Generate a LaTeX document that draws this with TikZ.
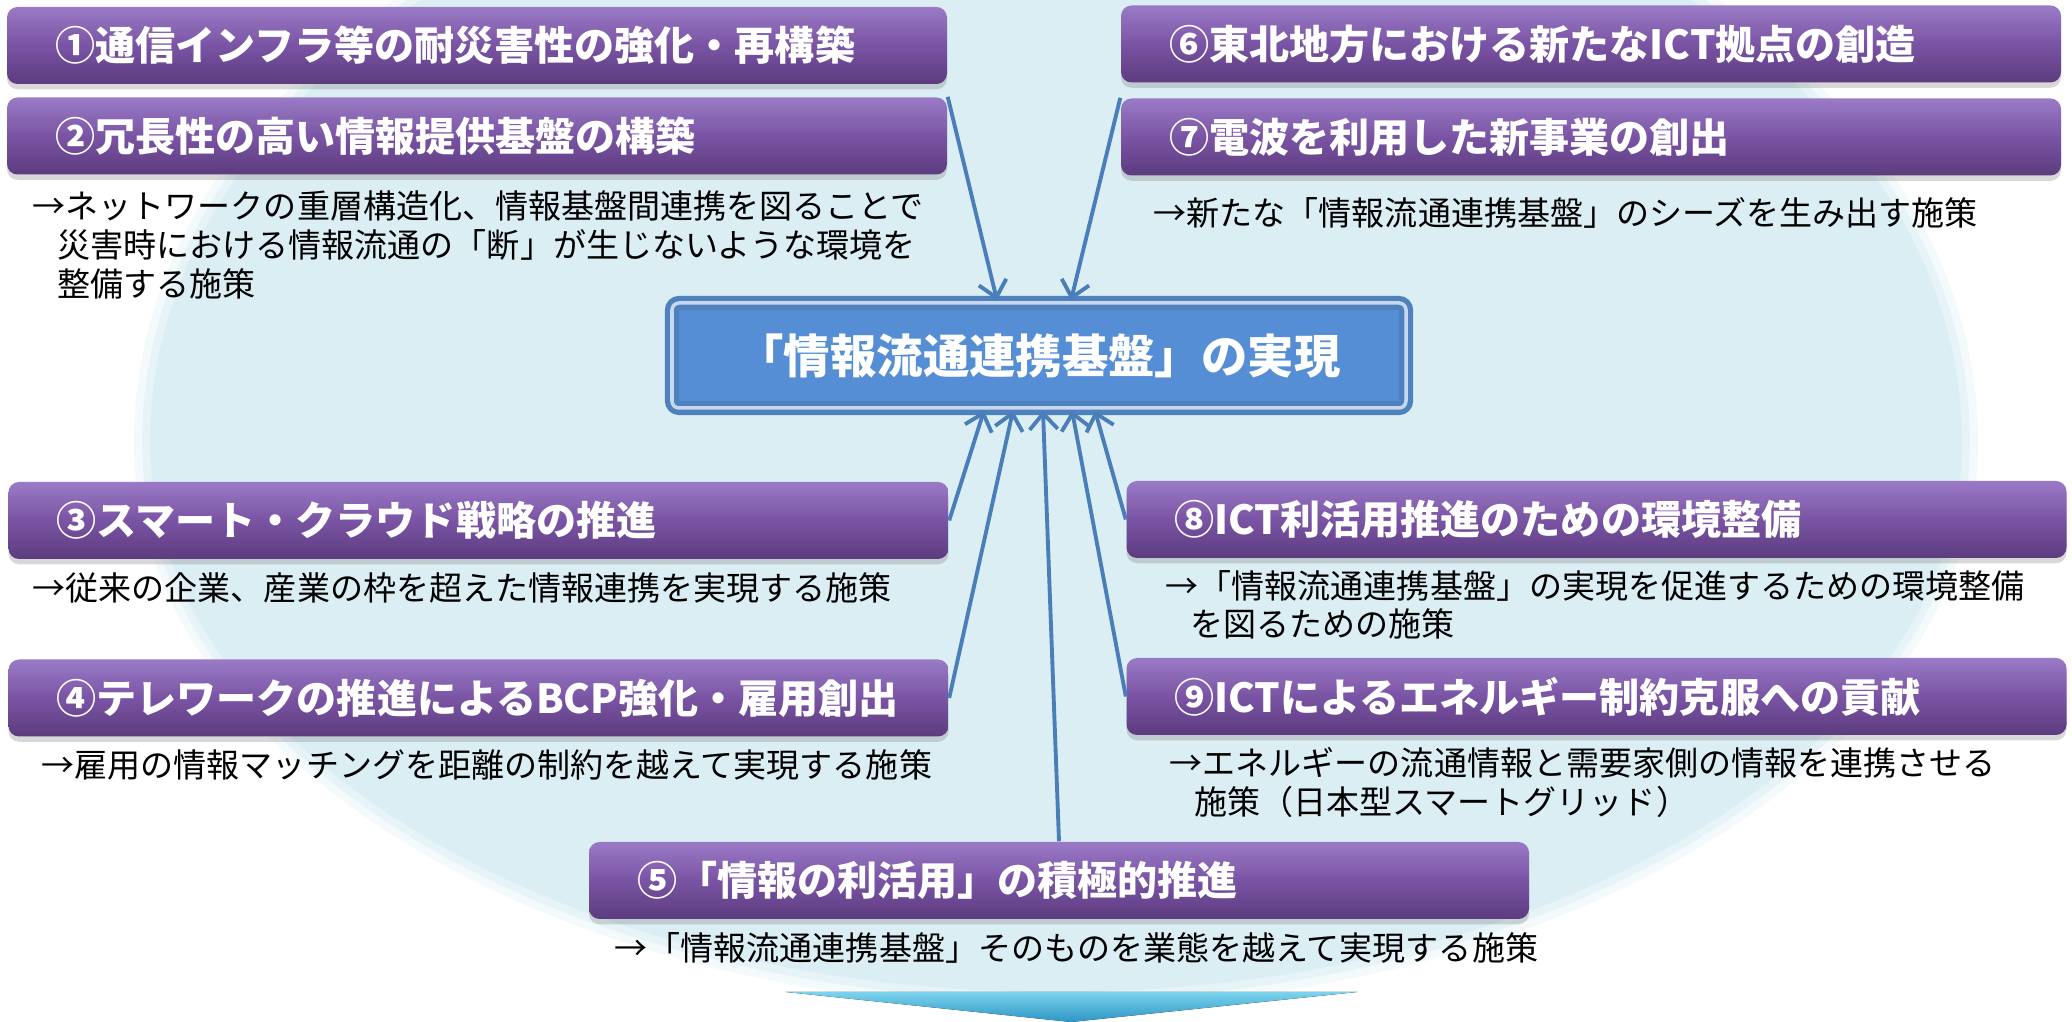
\documentclass[tikz,border=0pt]{standalone}
\usepackage{fontspec}
\setmainfont{Noto Sans CJK JP}
\usetikzlibrary{arrows.meta, shadows}

\definecolor{bgblue}{HTML}{DAEEF3}
\definecolor{ptop}{HTML}{9A7AC6}
\definecolor{pmid}{HTML}{7A54A4}
\definecolor{pbot}{HTML}{5C3B7E}
\definecolor{rfill}{HTML}{558ED5}
\definecolor{rline}{HTML}{4F81BD}
\definecolor{rstripe}{HTML}{C6D9F1}
\definecolor{linkblue}{HTML}{4A7EBB}
\definecolor{vtop}{HTML}{7CD3EE}
\definecolor{vbot}{HTML}{2C96C4}

\newcommand{\noteind}{\hspace*{0.75em}}
% egg shaped backdrop, #1 = extra radius
\newcommand{\backegg}[1]{(1.50-#1,5.8) arc[start angle=180, end angle=0, x radius=9.06+#1, y radius=6.2+#1]
  arc[start angle=0, end angle=-180, x radius=9.06+#1, y radius=5.5+#1] -- cycle}

\tikzset{
  measure/.style={rounded corners=3pt, top color=ptop, bottom color=pbot, middle color=pmid,
    drop shadow={shadow xshift=0pt, shadow yshift=-1.5pt, opacity=0.3},
    minimum width=9.4cm, minimum height=0.77cm, text width=8.44cm,
    inner xsep=0.48cm, inner ysep=0pt, align=left, text=white,
    font=\fontsize{11.4}{13}\selectfont\bfseries},
  goal/.style={draw=rline, line width=1.5pt, double=rstripe, double distance=1pt,
    fill=rfill, rounded corners=2pt, minimum width=7.34cm, minimum height=1.05cm,
    text=white, font=\fontsize{13.2}{15}\selectfont\bfseries},
  note/.style={anchor=west, align=left, inner sep=0pt, font=\fontsize{9.4}{11}\selectfont},
  feed/.style={draw=linkblue, line width=1.1pt, -{Straight Barb[length=4.5pt,width=8pt]}}
}

\begin{document}
\begin{tikzpicture}
\useasboundingbox (0,0) rectangle (20.72,10.22);
\clip (0,0) rectangle (20.72,10.22);
\fill[white] (0,0) rectangle (20.72,10.22);

% background
\fill[bgblue!30] \backegg{0.16};
\fill[bgblue!65] \backegg{0.08};
\fill[bgblue]    \backegg{0};

\node[measure] (M1) at (4.77,9.765)  {①通信インフラ等の耐災害性の強化・再構築};
\node[measure] (M2) at (4.77,8.86)   {②冗長性の高い情報提供基盤の構築};
\node[measure] (M3) at (4.785,5.015) {③スマート・クラウド戦略の推進};
\node[measure] (M4) at (4.785,3.24)  {④テレワークの推進によるBCP強化・雇用創出};
\node[measure] (M5) at (10.59,1.415) {⑤「情報の利活用」の積極的推進};
\node[measure] (M6) at (15.91,9.78)  {⑥東北地方における新たなICT拠点の創造};
\node[measure] (M7) at (15.91,8.85)  {⑦電波を利用した新事業の創出};
\node[measure] (M8) at (15.965,5.025) {⑧ICT利活用推進のための環境整備};
\node[measure] (M9) at (15.965,3.255) {⑨ICTによるエネルギー制約克服への貢献};

\node[note] (D2) at (0.32,7.77) {→ネットワークの重層構造化、情報基盤間連携を図ることで\\\noteind 災害時における情報流通の「断」が生じないような環境を\\\noteind 整備する施策};
\node[note] (D3) at (0.32,4.34)  {→従来の企業、産業の枠を超えた情報連携を実現する施策};
\node[note] (D4) at (0.41,2.57)  {→雇用の情報マッチングを距離の制約を越えて実現する施策};
\node[note] (D5) at (6.14,0.74)  {→「情報流通連携基盤」そのものを業態を越えて実現する施策};
\node[note] (D7) at (11.53,8.09) {→新たな「情報流通連携基盤」のシーズを生み出す施策};
\node[note] (D8) at (11.65,4.17) {→「情報流通連携基盤」の実現を促進するための環境整備\\\noteind を図るための施策};
\node[note] (D9) at (11.69,2.395) {→エネルギーの流通情報と需要家側の情報を連携させる\\\noteind 施策（日本型スマートグリッド）};

\node[goal] (R) at (10.39,6.665) {「情報流通連携基盤」の実現};

\draw[feed] (M2.north east) -- ([xshift=-0.42cm]R.north);
\draw[feed] (M7.north west) -- ([xshift=0.32cm]R.north);
\draw[feed] (M3.east) -- ([xshift=-0.55cm]R.south);
\draw[feed] (M4.east) -- ([xshift=-0.26cm]R.south);
\draw[feed] (M5.north) -- ([xshift=0.04cm]R.south);
\draw[feed] (M9.west) -- ([xshift=0.33cm]R.south);
\draw[feed] (M8.west) -- ([xshift=0.56cm]R.south);

\fill[top color=vtop, bottom color=vbot] (7.86,0.30) -- (13.57,0.30) -- (10.71,0) -- cycle;
\end{tikzpicture}
\end{document}
